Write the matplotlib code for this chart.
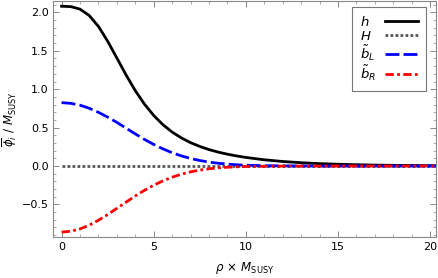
import numpy as np
import matplotlib
matplotlib.use("Agg")
import matplotlib.pyplot as plt
from matplotlib.ticker import MultipleLocator

# values (rho in units of 1/M_SUSY)
rho = [0, 0.5, 1, 1.5, 2, 2.5, 3, 3.5, 4, 4.5, 5, 5.5, 6, 6.5, 7, 7.5, 8,
       8.5, 9, 9.5, 10, 11, 12, 13, 14, 15, 16, 17, 18, 19, 20, 20.5]
h_vals = [2.08, 2.075, 2.042, 1.959, 1.817, 1.625, 1.406, 1.185, 0.981,
          0.805, 0.658, 0.538, 0.442, 0.366, 0.304, 0.255, 0.214, 0.181,
          0.154, 0.131, 0.112, 0.081, 0.059, 0.043, 0.031, 0.023, 0.017,
          0.012, 0.009, 0.0065, 0.0048, 0.004]
H_vals = [0.0] * len(rho)
bL_vals = [0.825, 0.816, 0.792, 0.752, 0.699, 0.637, 0.568, 0.493, 0.418,
           0.346, 0.281, 0.223, 0.173, 0.132, 0.098, 0.072, 0.051, 0.036,
           0.025, 0.016, 0.011, 0.004, 0.002, 0.001, 0.0, 0.0, 0.0, 0.0, 0.0,
           0.0, 0.0, 0.0]
bR_vals = [-0.86, -0.849, -0.819, -0.770, -0.706, -0.632, -0.551, -0.470,
           -0.390, -0.316, -0.250, -0.193, -0.145, -0.107, -0.076, -0.053,
           -0.036, -0.024, -0.016, -0.010, -0.006, -0.003, -0.001, 0.0, 0.0,
           0.0, 0.0, 0.0, 0.0, 0.0, 0.0, 0.0]

W, Hpx = 439, 278
fig = plt.figure(figsize=(W / 100, Hpx / 100), dpi=100)
left, right, top, bottom = 53.3, 436, 0.7, 236.7
ax = fig.add_axes([left / W, 1 - bottom / Hpx, (right - left) / W, (bottom - top) / Hpx])

ax.plot(rho, h_vals, color="black", lw=2.0, label=r"$h$")
ax.plot(rho, H_vals, color="#555555", lw=2.0, ls=(0, (1, 0.8)), label=r"$H$")
ax.plot(rho, bL_vals, color="#0000ff", lw=2.0, ls=(0, (5, 1.5)), label=r"$\tilde{b}_L$")
ax.plot(rho, bR_vals, color="#ff0000", lw=2.0, ls=(0, (3, 1.2, 1, 1.2)), label=r"$\tilde{b}_R$")

ax.set_xlim(-0.45, 20.32)
ax.set_ylim(-0.92, 2.152)
ax.xaxis.set_major_locator(MultipleLocator(5))
ax.xaxis.set_minor_locator(MultipleLocator(1))
ax.yaxis.set_major_locator(MultipleLocator(0.5))
ax.yaxis.set_minor_locator(MultipleLocator(0.1))
ax.tick_params(which="both", direction="in", top=True, right=True,
               colors="#888888", labelcolor="black", labelsize=8)
ax.tick_params(which="major", length=4, width=0.7)
ax.tick_params(which="minor", length=2, width=0.5)
for s in ax.spines.values():
    s.set_color("#888888")
    s.set_linewidth(0.8)

ax.set_xlabel(r"$\rho\,\times\,M_{\mathrm{SUSY}}$", fontsize=8.5, labelpad=6)
ax.set_ylabel(r"$\overline{\phi}_i\ /\ M_{\mathrm{SUSY}}$", fontsize=8.5, labelpad=2)

pad = 0.7
leg = ax.legend(loc="upper right", fontsize=9.5, frameon=True, fancybox=False,
                edgecolor="#555555", handlelength=2.5, borderpad=0.6,
                labelspacing=0.05, handletextpad=pad, borderaxespad=0,
                bbox_to_anchor=(0.974, 0.973), markerfirst=False)
leg.get_frame().set_linewidth(0.8)

# left-align the labels: rows left-aligned, gap before each handle widened
fig.canvas.draw()
widths = [t.get_window_extent().width * 72 / fig.dpi for t in leg.get_texts()]
col = leg._legend_handle_box.get_children()[0]
col.align = "left"
for row, w in zip(col.get_children(), widths):
    row.sep = pad * 9.5 + (max(widths) - w)

fig.savefig("out.png", dpi=100)
